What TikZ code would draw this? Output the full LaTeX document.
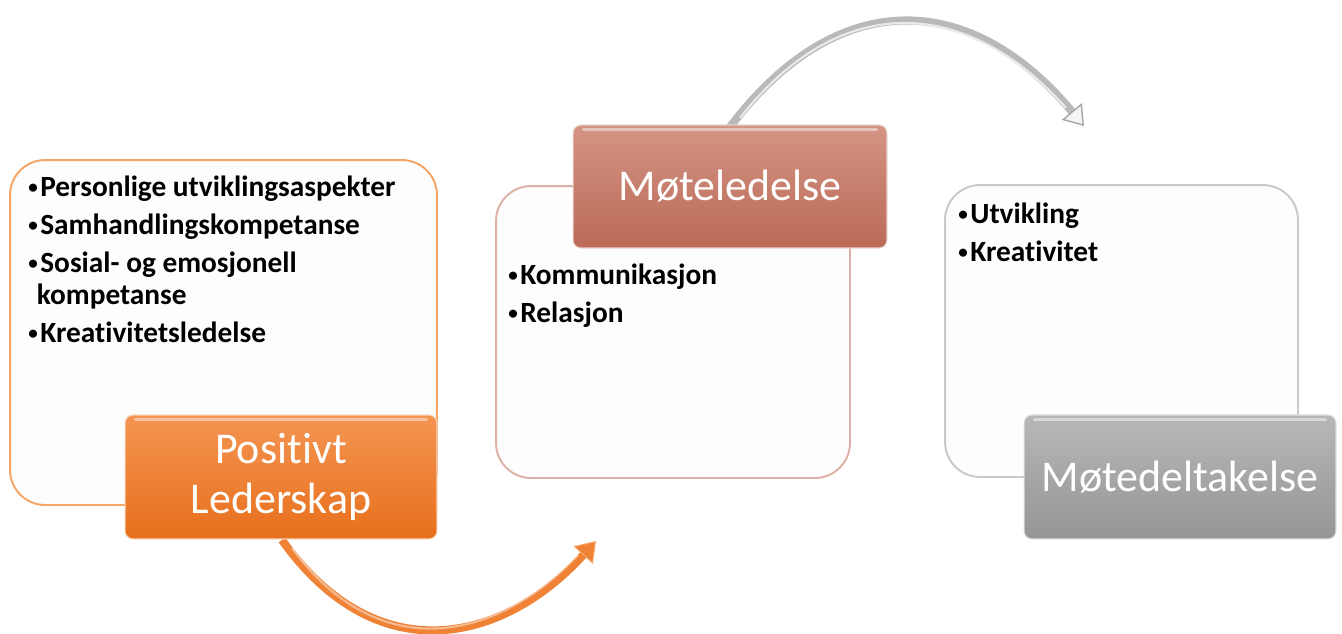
\documentclass[tikz,border=0pt]{standalone}
\usepackage{fontspec}
\setmainfont{Carlito}[Ligatures=NoCommon]
\usetikzlibrary{arrows.meta}

\definecolor{orangeA}{HTML}{F49552}
\definecolor{orangeB}{HTML}{E76F1C}
\definecolor{orangeLine}{HTML}{F6A565}
\definecolor{roseA}{HTML}{D49484}
\definecolor{roseB}{HTML}{BB6A57}
\definecolor{roseLine}{HTML}{DDB1A6}
\definecolor{greyA}{HTML}{B8B8B8}
\definecolor{greyB}{HTML}{959595}
\definecolor{greyLine}{HTML}{C9C9C9}
\definecolor{paper}{HTML}{FDFDFD}
\definecolor{arrowOrange}{HTML}{EF8235}
\definecolor{arrowGrey}{HTML}{B9B9B9}

\tikzset{
  listbox/.style={draw, line width=1.1pt, fill=paper, rounded corners=0.7cm,
    inner sep=0pt},
  titlebox/.style={rounded corners=0.16cm, draw=white!70!#1, line width=0.6pt,
    text=white, align=center, inner sep=0pt,
    font=\fontsize{25}{28.5}\selectfont},
  gloss/.style={white, opacity=0.45, line width=2pt, line cap=round},
  bullets/.style={anchor=base west, align=left, inner sep=0pt,
    font=\fontsize{16.7}{18.2}\selectfont\bfseries},
  bentarrow/.style={line width=4.6pt, draw=#1},
  shine/.style={line width=1.2pt, draw=white, opacity=0.45},
}

\newcommand{\gap}{\\[3.4pt]}
\newcommand{\bul}{\makebox[0.24cm][l]{\raisebox{0.1em}{\scalebox{0.65}{•}}}}

\begin{document}
\begin{tikzpicture}[x=0.02cm,y=-0.02cm]
  \useasboundingbox[fill=white] (0,0) rectangle (1342,633);

  % ---- the three content panels
  \node[listbox, draw=orangeLine, minimum width=8.54cm, minimum height=6.9cm]
    (p1) at (223.5,332.5) {};
  \node[listbox, draw=roseLine, minimum width=7.08cm, minimum height=5.84cm]
    (p2) at (673,332) {};
  \node[listbox, draw=greyLine, minimum width=7.06cm, minimum height=5.84cm]
    (p3) at (1121.5,331) {};

  % ---- bullet texts (placed by the baseline of their last line)
  \node[bullets] (l1) at (28,342)
    {\bul Personlige utviklingsaspekter\gap
     \bul Samhandlingskompetanse\gap
     \bul Sosial- og emosjonell\\
     \hspace*{0.17cm}kompetanse\gap
     \bul Kreativitetsledelse};
  \node[bullets] (l2) at (508,322)
    {\bul Kommunikasjon\gap
     \bul Relasjon};
  \node[bullets] (l3) at (958,261)
    {\bul Utvikling\gap
     \bul Kreativitet};

  % ---- anchor points of the curved arrows
  \coordinate (o0) at (282,540);
  \coordinate (o1) at (596,541);
  \coordinate (g0) at (730,127);
  \coordinate (g1) at (1084,126);

  % orange arrow, passing under the first title box
  \draw[bentarrow=arrowOrange,
        -{Triangle[length=0.38cm,width=0.52cm,fill=arrowOrange,
                   line width=0.6pt,color=orangeLine]}]
    (o0) .. controls (376,672) and (502,644) .. (o1);
  \draw[shine] (292,548) .. controls (380,668) and (498,640) .. (578,555);

  % grey arrow, leaving the second title box
  \draw[bentarrow=arrowGrey,
        -{Triangle[length=0.38cm,width=0.52cm,fill=white!92!gray,
                   line width=0.8pt,color=gray!70]}]
    (g0) .. controls (840,-18) and (973,-7) .. (g1);
  \draw[shine, opacity=0.7] (740,118) .. controls (842,-12) and (968,-2) .. (1066,108);

  % ---- title boxes
  \node[titlebox=orangeB, top color=orangeA, bottom color=orangeB,
        minimum width=6.24cm, minimum height=2.48cm]
    (t1) at (281,477) {Positivt\\Lederskap};
  \node[titlebox=roseB, top color=roseA, bottom color=roseB,
        minimum width=6.28cm, minimum height=2.46cm]
    (t2) at (730,186.5) {Møteledelse};
  \node[titlebox=greyB, top color=greyA, bottom color=greyB,
        minimum width=6.24cm, minimum height=2.48cm]
    (t3) at (1180,477) {Møtedeltakelse};

  % glossy highlight along the top of each title box
  \draw[gloss] ([xshift=0.22cm,yshift=-0.1cm]t1.north west) -- ([xshift=-0.22cm,yshift=-0.1cm]t1.north east);
  \draw[gloss] ([xshift=0.22cm,yshift=-0.1cm]t2.north west) -- ([xshift=-0.22cm,yshift=-0.1cm]t2.north east);
  \draw[gloss] ([xshift=0.22cm,yshift=-0.1cm]t3.north west) -- ([xshift=-0.22cm,yshift=-0.1cm]t3.north east);
\end{tikzpicture}
\end{document}
